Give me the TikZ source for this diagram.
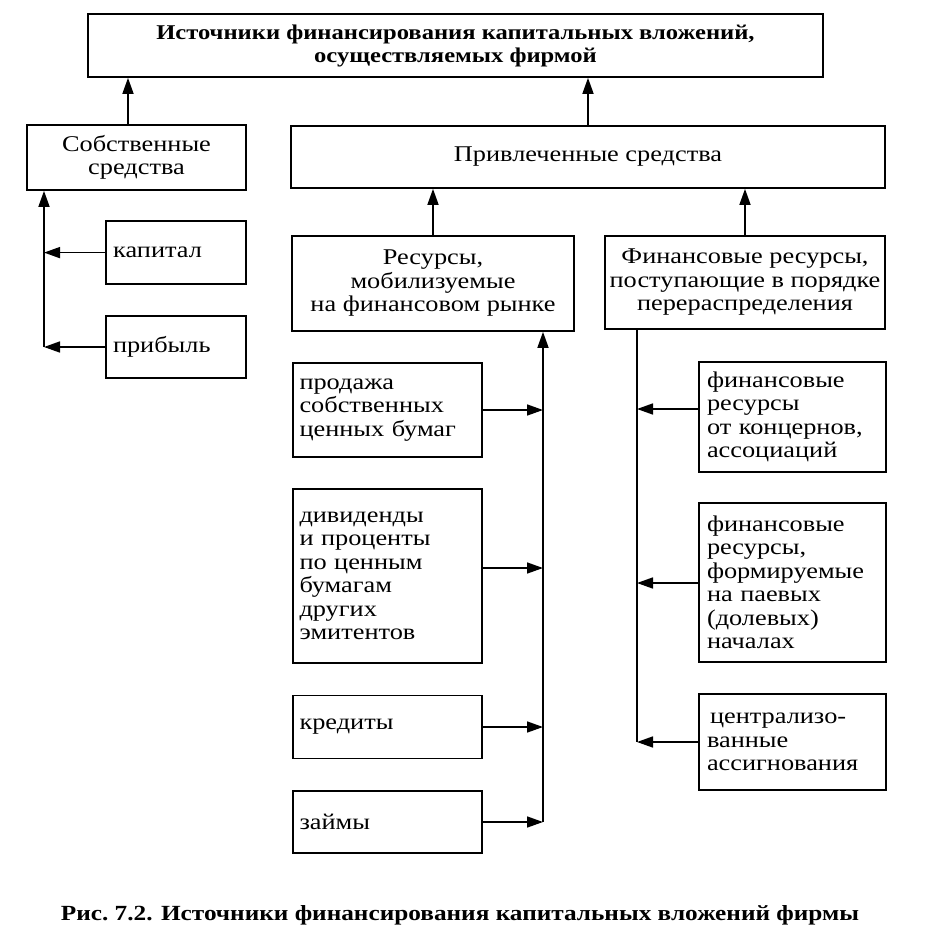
\documentclass[tikz,border=0pt]{standalone}
\usepackage{fontspec}
\setmainfont{Liberation Serif}[FakeStretch=1.17]
\usetikzlibrary{arrows.meta}
\begin{document}
\begin{tikzpicture}[x=1pt,y=-1pt,
  box/.style={draw, line width=1.7pt, inner sep=0pt, font=\fontsize{22.5}{23.5}\selectfont},
  cbox/.style={box, align=center},
  arr/.style={line width=1.6pt, -{Triangle[length=16pt,width=11pt]}},
  ln/.style={line width=1.6pt}]
\useasboundingbox (0,0) rectangle (932,932);
% top
\node[cbox, minimum width=735, minimum height=63, font=\bfseries\fontsize{21}{23}\selectfont] (top) at (455.5,45.5)
  {Источники финансирования капитальных вложений,\\осуществляемых фирмой};
\node[cbox, minimum width=219, minimum height=65] (sob) at (136.5,157.5) {Собственные\\средства};
\node[cbox, minimum width=594, minimum height=62] (priv) at (588,157) {Привлеченные средства};
% left group
\node[box, minimum width=140, minimum height=63, text width=126, align=left] (kap) at (176.2,252.6) {капитал};
\node[box, minimum width=140, minimum height=62, text width=126, align=left] (prib) at (176,347) {прибыль};
% second level
\node[cbox, minimum width=282, minimum height=95] (res) at (433,283.5) {Ресурсы,\\мобилизуемые\\на финансовом рынке};
\node[cbox, minimum width=280, minimum height=93] (fin) at (745,282.5) {Финансовые ресурсы,\\поступающие в порядке\\перераспределения};
% middle column
\node[box, minimum width=189, minimum height=94, text width=176, align=left] (prod) at (387.5,410) {продажа\\собственных\\ценных бумаг};
\node[box, minimum width=189, minimum height=174, text width=176, align=left] (div) at (387.5,576) {дивиденды\\и проценты\\по ценным\\бумагам\\других\\эмитентов};
\node[box, minimum width=189, minimum height=63, text width=176, align=left] (kred) at (387.5,727) {кредиты};
\node[box, minimum width=189, minimum height=62, text width=176, align=left] (zaim) at (387.5,822) {займы};
% right column
\node[box, minimum width=187, minimum height=110, text width=171, align=left] (fk) at (792.5,417) {финансовые\\ресурсы\\от концернов,\\ассоциаций};
\node[box, minimum width=187, minimum height=159, text width=171, align=left] (fp) at (792.5,582.5) {финансовые\\ресурсы,\\формируемые\\на паевых\\(долевых)\\началах};
\node[box, minimum width=187, minimum height=96, text width=171, align=left] (fc) at (792.5,742) {\hspace*{3pt}централизо-\\ванные\\ассигнования};
% caption
\node[font=\bfseries\fontsize{21.6}{23}\selectfont] (cap) at (460,915) {Рис.~7.2. Источники финансирования капитальных вложений фирмы};
% helper coordinates
\coordinate (xa) at (128,0);
\coordinate (xL) at (44,0);
\coordinate (xM) at (543,0);
\coordinate (xR) at (637,0);
\coordinate (yd) at (0,568);
\coordinate (yk) at (0,409);
\coordinate (yp) at (0,583);
\coordinate (yc) at (0,742);
% connectors up
\draw[arr] (sob.north -| xa) -- (top.south -| xa);
\draw[arr] (priv.north) -- (top.south -| priv.north);
\draw[arr] (res.north) -- (priv.south -| res.north);
\draw[arr] (fin.north) -- (priv.south -| fin.north);
% left bus
\draw[arr] (prib.west -| xL) -- (sob.south -| xL);
\draw[arr] (kap.west) -- (kap.west -| xL);
\draw[arr] (prib.west) -- (prib.west -| xL);
% middle bus
\draw[arr] (zaim.east -| xM) -- (res.south -| xM);
\draw[arr] (prod.east) -- (prod.east -| xM);
\draw[arr] (div.east |- yd) -- (xM |- yd);
\draw[arr] (kred.east) -- (kred.east -| xM);
\draw[arr] (zaim.east) -- (zaim.east -| xM);
% right bus
\draw[ln] (fin.south -| xR) -- (xR |- yc);
\draw[arr] (fk.west |- yk) -- (xR |- yk);
\draw[arr] (fp.west |- yp) -- (xR |- yp);
\draw[arr] (fc.west) -- (fc.west -| xR);
\end{tikzpicture}
\end{document}
